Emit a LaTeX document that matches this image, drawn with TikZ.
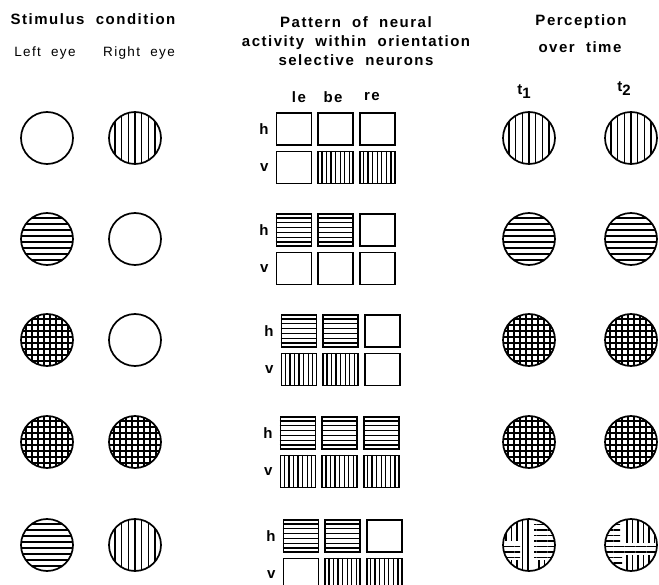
\documentclass[tikz,border=0pt]{standalone}
\usepackage{fontspec}
\setmainfont{Liberation Sans}[LetterSpace=10,WordSpace=2]
\usetikzlibrary{calc,positioning,patterns.meta}

% evenly spaced stripes across a named node (clipped to a 26pt circle)
\newcommand\hstrokes[2]{%
  \begin{scope}
    \clip (#1.center) circle (26pt);
    \foreach \kk in {1,...,#2}{%
      \pgfmathsetmacro\ff{\kk/(#2+1)}%
      \draw[stripe] ($(#1.north -| #1.west)!\ff!(#1.south -| #1.west)$)
        -- ($(#1.north -| #1.east)!\ff!(#1.south -| #1.east)$);}
  \end{scope}}
\newcommand\vstrokes[2]{%
  \begin{scope}
    \clip (#1.center) circle (26pt);
    \foreach \kk in {1,...,#2}{%
      \pgfmathsetmacro\ff{\kk/(#2+1)}%
      \draw[stripe] ($(#1.north -| #1.west)!\ff!(#1.north -| #1.east)$)
        -- ($(#1.south -| #1.west)!\ff!(#1.south -| #1.east)$);}
  \end{scope}}
\newcommand\patbl[1]{}
\newcommand\pathz[1]{\hstrokes{#1}{6}}
\newcommand\patvt[1]{\vstrokes{#1}{7}}
\newcommand\patchz[1]{\hstrokes{#1}{8}}
\newcommand\patxx[1]{\hstrokes{#1}{8}\vstrokes{#1}{8}}

\begin{document}
\begin{tikzpicture}[x=1pt, y=-1pt,
  stripe/.style={line width=1.3pt},
  circ/.style={circle, draw, line width=1.7pt, minimum size=52pt, inner sep=0pt},
  cell/.style={draw, line width=1.6pt, minimum width=35pt, minimum height=32pt, inner sep=0pt},
  head/.style={font=\fontsize{15}{19}\selectfont\bfseries, align=center, inner sep=0pt},
  lab/.style={font=\fontsize{13.5}{15}\selectfont, inner sep=0pt},
  hzp/.style={pattern={Lines[angle=0,distance=5.5pt,line width=1.3pt]}},
  vtp/.style={pattern={Lines[angle=90,distance=5.5pt,line width=1.3pt]}},
]
  \path[use as bounding box, fill=white] (0,0) rectangle (659,585);

  % headings
  \node[head] (stim) at (93,19) {Stimulus condition};
  \node[lab] (lefteye) at (45,53) {Left eye};
  \node[lab] (righteye) at (139,53) {Right eye};
  \node[head] (pattern) at (356,41) {Pattern of neural\\activity within orientation\\selective neurons};
  \node[head] (perc) at (581,22) {Perception};
  \node[head] (time) at (580,47) {over time};
  \node[head] (le) at (299,97) {le};
  \node[head] (be) at (333,97) {be};
  \node[head] (re) at (372,97) {re};
  \node[head] (t1) at (524,92) {t\raisebox{-4pt}{1}};
  \node[head] (t2) at (624,89) {t\raisebox{-4pt}{2}};

  % one row per stimulus condition
  \foreach \n/\yy/\dx/\la/\ra/\pa/\ha/\hb/\hc/\va/\vb/\vc in {
      1/138/0/bl/vt/vt/bl/bl/bl/bl/vt/vt,
      2/239/0/chz/bl/chz/hz/hz/bl/bl/bl/bl,
      3/340/5/xx/bl/xx/hz/hz/bl/vt/vt/bl,
      4/442/4/xx/xx/xx/hz/hz/hz/vt/vt/vt,
      5/545/7/chz/vt/bl/hz/hz/bl/bl/vt/vt}{
    \node[circ] (l\n) at (47,\yy) {};
    \node[circ] (r\n) at (135,\yy) {};
    \node[cell] (h\n-le) at (294+\dx,\yy-9) {};
    \node[cell,right=5pt of h\n-le] (h\n-be) {};
    \node[cell,right=5pt of h\n-be] (h\n-re) {};
    \node[cell,below=5pt of h\n-le] (v\n-le) {};
    \node[cell,below=5pt of h\n-be] (v\n-be) {};
    \node[cell,below=5pt of h\n-re] (v\n-re) {};
    \node[head,left=7pt of h\n-le] (hl\n) {h};
    \node[head,left=7pt of v\n-le] (vl\n) {v};
    \node[circ] (p\n a) at (529,\yy) {};
    \node[circ] (p\n b) at (631,\yy) {};
    \csname pat\la\endcsname{l\n}
    \csname pat\ra\endcsname{r\n}
    \csname pat\ha\endcsname{h\n-le}
    \csname pat\hb\endcsname{h\n-be}
    \csname pat\hc\endcsname{h\n-re}
    \csname pat\va\endcsname{v\n-le}
    \csname pat\vb\endcsname{v\n-be}
    \csname pat\vc\endcsname{v\n-re}
    \csname pat\pa\endcsname{p\n a}
    \csname pat\pa\endcsname{p\n b}
  }

  % patchy percepts
  \begin{scope}[shift={(p5a.center)}]
    \clip (0,0) circle (26pt);
    \fill[vtp] (-26,-26) rectangle (-9,-5);
    \fill[vtp] (-7,-26) rectangle (3,26);
    \fill[hzp] (5,-26) rectangle (26,-3);
    \fill[hzp] (-26,-3) rectangle (-9,13);
    \fill[vtp] (-26,15) rectangle (-9,26);
    \fill[hzp] (5,-1) rectangle (26,13);
    \fill[vtp] (5,15) rectangle (26,26);
  \end{scope}
  \begin{scope}[shift={(p5b.center)}]
    \clip (0,0) circle (26pt);
    \fill[hzp] (-26,-26) rectangle (-11,-3);
    \fill[vtp] (-9,-26) rectangle (26,-3);
    \fill[hzp] (-26,-1) rectangle (26,8);
    \fill[hzp] (-26,10) rectangle (-9,26);
    \fill[vtp] (-7,10) rectangle (26,26);
  \end{scope}
\end{tikzpicture}
\end{document}
